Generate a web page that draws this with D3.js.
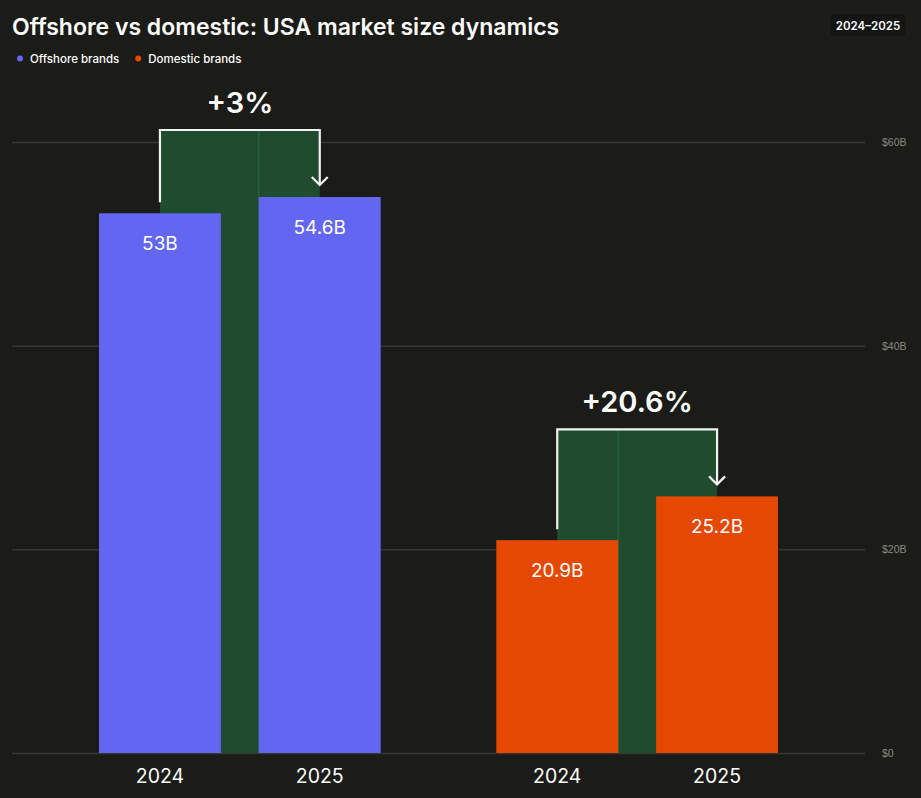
<!DOCTYPE html>
<html><head><meta charset="utf-8">
<script src="https://cdn.jsdelivr.net/npm/d3@7"></script>
<style>
html,body{margin:0;padding:0;background:#1b1b18;}
svg{display:block;font-family:Inter,"Noto Sans",sans-serif;}
</style></head>
<body>
<svg id="chart" width="921" height="798"></svg>
<script>
const groups = ["Offshore brands", "Domestic brands"];
const years = ["2024", "2025"];
const offshoreValues = [53, 54.6];
const domesticValues = [20.9, 25.2];
const valueLabels = [["53B", "54.6B"], ["20.9B", "25.2B"]];
const changeLabels = ["+3%", "+20.6%"];
const yTicks = [0, 20, 40, 60];
const yTickLabels = ["$0", "$20B", "$40B", "$60B"];
const colors = ["#6366f0", "#e54800"];
const seriesValues = [offshoreValues, domesticValues];

const svg = d3.select("#chart");
const W = 921, H = 798;
svg.append("rect").attr("width", W).attr("height", H).attr("fill", "#1b1b18");

const y = d3.scaleLinear().domain([0, 60]).range([753, 142]);
const x0 = d3.scaleBand().domain(groups).range([41, 836]).paddingInner(0.291).paddingOuter(0.146);
const x1 = d3.scaleBand().domain(years).range([0, x0.bandwidth()]).paddingInner(0.2375).paddingOuter(0);

// gridlines + right tick labels
const yAxis = d3.axisRight(y).tickValues(yTicks).tickSize(853).tickFormat((d, i) => yTickLabels[i]);
const ga = svg.append("g").attr("transform", "translate(12,0)").call(yAxis);
ga.select(".domain").remove();
ga.selectAll(".tick line").attr("stroke", "#363632").attr("stroke-width", 1.5);
ga.selectAll(".tick text").attr("x", 870).attr("fill", "#8a8a84").attr("font-size", 10.5).attr("dy", "0.32em");

// title
svg.append("text").attr("x", 12).attr("y", 35).attr("fill", "#ffffff")
  .attr("font-size", 23).attr("font-weight", 600).text("Offshore vs domestic: USA market size dynamics");

// legend
const leg = svg.append("g");
let lx = 20;
groups.forEach((g, i) => {
  leg.append("circle").attr("cx", lx).attr("cy", 58.5).attr("r", 3).attr("fill", colors[i]);
  const t = leg.append("text").attr("x", lx + 10).attr("y", 62.5).attr("fill", "#ffffff")
    .attr("font-size", 11.5).attr("font-weight", 500).text(g);
  lx += t.node().getComputedTextLength() + 29;
});

// badge
const badge = svg.append("g");
badge.append("rect").attr("x", 829).attr("y", 13).attr("width", 78).attr("height", 24).attr("rx", 5)
  .attr("fill", "#151513").attr("stroke", "#232320");
badge.append("text").attr("x", 868).attr("y", 29.5).attr("text-anchor", "middle").attr("fill", "#ffffff")
  .attr("font-size", 11.5).attr("font-weight", 600).text("2024–2025");

// groups
groups.forEach((g, gi) => {
  const vals = seriesValues[gi];
  const gx = x0(g);
  const c1 = gx + x1(years[0]) + x1.bandwidth() / 2;
  const c2 = gx + x1(years[1]) + x1.bandwidth() / 2;
  const top = y(d3.max(vals)) - 67;
  const gg = svg.append("g");
  // green connector
  gg.append("rect").attr("x", c1).attr("y", top).attr("width", c2 - c1).attr("height", y(0) - top).attr("fill", "#1f4b2e");
  const divX = gi === 0 ? gx + x1(years[1]) : gx + x1(years[0]) + x1.bandwidth();
  gg.append("line").attr("x1", divX).attr("x2", divX).attr("y1", top).attr("y2", y(0))
    .attr("stroke", "#2d6c41").attr("stroke-width", 1);
  // bars
  years.forEach((yr, i) => {
    const bx = gx + x1(yr);
    gg.append("rect").attr("x", bx).attr("y", y(vals[i])).attr("width", x1.bandwidth())
      .attr("height", y(0) - y(vals[i])).attr("fill", colors[gi]);
    gg.append("text").attr("x", bx + x1.bandwidth() / 2).attr("y", y(vals[i]) + 37)
      .attr("text-anchor", "middle").attr("fill", "#ffffff").attr("font-size", 19).text(valueLabels[gi][i]);
    gg.append("text").attr("x", bx + x1.bandwidth() / 2).attr("y", 783)
      .attr("text-anchor", "middle").attr("fill", "#ffffff").attr("font-size", 19.5).text(yr);
  });
  // bracket
  const tip = y(vals[1]) - 12;
  gg.append("path")
    .attr("d", `M${c1},${y(vals[0]) - 11} V${top} H${c2} V${tip}`)
    .attr("fill", "none").attr("stroke", "#f2f2f2").attr("stroke-width", 2.2);
  gg.append("path")
    .attr("d", `M${c2 - 8},${tip - 8} L${c2},${tip} L${c2 + 8},${tip - 8}`)
    .attr("fill", "none").attr("stroke", "#f2f2f2").attr("stroke-width", 2.2);
  gg.append("text").attr("x", (c1 + c2) / 2).attr("y", top - 17).attr("text-anchor", "middle")
    .attr("fill", "#ffffff").attr("font-size", 29).attr("font-weight", 600).text(changeLabels[gi]);
});
</script>
</body></html>
